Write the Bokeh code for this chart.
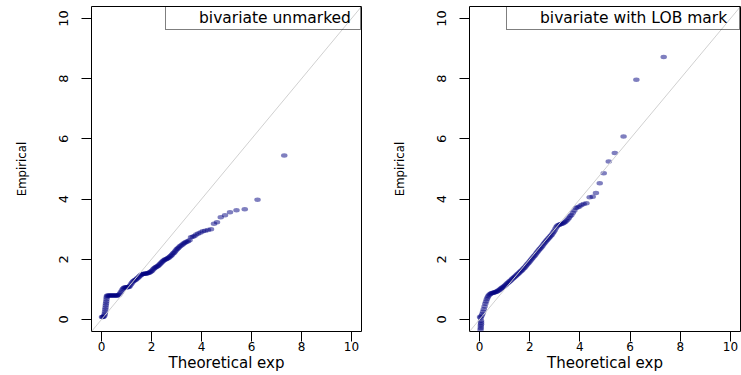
from bokeh.plotting import figure
from bokeh.models import Range1d, FixedTicker, Slope, Legend, LegendItem, ColumnDataSource
from bokeh.layouts import row
from bokeh.embed import file_html
from bokeh.resources import INLINE

# ---------------- data ----------------
ticks = [0, 2, 4, 6, 8, 10]
x_label = "Theoretical exp"
y_label = "Empirical"
panel_titles = ["bivariate unmarked", "bivariate with LOB mark"]

unmarked_theoretical = [
    0.02, 0.05, 0.08, 0.11, 0.13, 0.14, 0.15, 0.16, 0.17, 0.18, 0.19, 0.20, 0.21, 0.22,
    0.26, 0.30, 0.34, 0.38, 0.42, 0.46, 0.50, 0.54, 0.58, 0.62, 0.66, 0.70, 0.74, 0.78,
    0.82, 0.86, 0.90, 0.94, 0.98, 1.02, 1.06, 1.10, 1.14, 1.18, 1.22, 1.26, 1.30, 1.34,
    1.38, 1.42, 1.46, 1.50, 1.54, 1.58, 1.62, 1.66, 1.70, 1.74, 1.78, 1.82, 1.86, 1.90,
    1.94, 1.98, 2.02, 2.06, 2.10, 2.14, 2.18, 2.22, 2.26, 2.30, 2.34, 2.38, 2.42, 2.46,
    2.50, 2.54, 2.58, 2.62, 2.66, 2.70, 2.74, 2.78, 2.82, 2.86, 2.90, 2.94, 2.98, 3.02,
    3.06, 3.10, 3.15, 3.20, 3.25, 3.30, 3.35, 3.40, 3.46, 3.52, 3.58, 3.65, 3.72, 3.79,
    3.87, 3.96, 4.05, 4.15, 4.26, 4.38, 4.50, 4.62, 4.77, 4.94, 5.14, 5.40, 5.73, 6.24,
    7.31,
]
unmarked_empirical = [
    0.08, 0.08, 0.09, 0.12, 0.18, 0.25, 0.32, 0.39, 0.46, 0.53, 0.60, 0.67, 0.74, 0.79,
    0.80, 0.80, 0.80, 0.80, 0.80, 0.80, 0.80, 0.80, 0.80, 0.80, 0.80, 0.82, 0.86, 0.91,
    0.97, 1.02, 1.05, 1.06, 1.07, 1.07, 1.08, 1.08, 1.12, 1.17, 1.22, 1.26, 1.29, 1.31,
    1.33, 1.36, 1.39, 1.42, 1.45, 1.48, 1.50, 1.51, 1.52, 1.52, 1.53, 1.53, 1.54, 1.55,
    1.57, 1.59, 1.62, 1.66, 1.69, 1.72, 1.74, 1.76, 1.78, 1.81, 1.84, 1.88, 1.91, 1.94,
    1.97, 1.99, 2.00, 2.02, 2.04, 2.06, 2.09, 2.12, 2.15, 2.19, 2.22, 2.26, 2.30, 2.34,
    2.37, 2.40, 2.44, 2.47, 2.50, 2.53, 2.56, 2.58, 2.60, 2.63, 2.73, 2.75, 2.77, 2.82,
    2.86, 2.89, 2.93, 2.95, 2.97, 3.00, 3.18, 3.23, 3.40, 3.46, 3.56, 3.63, 3.66, 3.98,
    5.45,
]

lob_theoretical = [
    0.04, 0.05, 0.05, 0.06, 0.06, 0.06, 0.02, 0.05, 0.08, 0.11, 0.14, 0.17, 0.20, 0.23,
    0.26, 0.29, 0.32, 0.35, 0.39, 0.43, 0.47, 0.51, 0.55, 0.59, 0.63, 0.67, 0.71, 0.75,
    0.79, 0.83, 0.87, 0.91, 0.95, 0.99, 1.03, 1.07, 1.11, 1.15, 1.19, 1.23, 1.27, 1.31,
    1.35, 1.39, 1.43, 1.47, 1.51, 1.55, 1.59, 1.63, 1.67, 1.71, 1.75, 1.79, 1.83, 1.87,
    1.91, 1.95, 1.99, 2.03, 2.07, 2.11, 2.15, 2.19, 2.23, 2.27, 2.31, 2.35, 2.39, 2.43,
    2.47, 2.51, 2.55, 2.59, 2.63, 2.67, 2.71, 2.75, 2.79, 2.83, 2.87, 2.91, 2.95, 2.99,
    3.03, 3.07, 3.11, 3.16, 3.21, 3.26, 3.31, 3.36, 3.41, 3.46, 3.51, 3.56, 3.61, 3.66,
    3.72, 3.78, 3.84, 3.91, 3.98, 4.06, 4.15, 4.26, 4.39, 4.51, 4.64, 4.79, 4.95, 5.15,
    5.39, 5.74, 6.25, 7.34,
]
lob_empirical = [
    -0.34, -0.28, -0.22, -0.16, -0.10, -0.04, 0.08, 0.06, 0.12, 0.18, 0.26, 0.34, 0.43, 0.52,
    0.60, 0.67, 0.73, 0.78, 0.82, 0.85, 0.87, 0.88, 0.89, 0.90, 0.91, 0.92, 0.94, 0.96,
    0.98, 1.01, 1.04, 1.06, 1.08, 1.11, 1.14, 1.17, 1.20, 1.23, 1.26, 1.29, 1.32, 1.35,
    1.38, 1.41, 1.44, 1.47, 1.50, 1.53, 1.56, 1.59, 1.62, 1.65, 1.69, 1.72, 1.76, 1.80,
    1.84, 1.88, 1.92, 1.96, 2.00, 2.04, 2.08, 2.12, 2.16, 2.21, 2.25, 2.29, 2.33, 2.37,
    2.41, 2.45, 2.50, 2.54, 2.58, 2.62, 2.66, 2.70, 2.73, 2.77, 2.81, 2.86, 2.91, 2.96,
    3.02, 3.08, 3.12, 3.14, 3.16, 3.17, 3.19, 3.21, 3.24, 3.28, 3.32, 3.37, 3.43, 3.47,
    3.55, 3.62, 3.70, 3.73, 3.75, 3.80, 3.84, 3.86, 4.06, 4.08, 4.20, 4.53, 4.86, 5.25,
    5.53, 6.08, 7.97, 8.72,
]

TICK_FONT = "DejaVu Sans"
LABEL_FONT = "DejaVu Sans"
YLABEL_FONT = "'Liberation Sans Narrow', 'DejaVu Sans Condensed', 'Liberation Sans'"


def make_panel(xs, ys, title, width, border_right, label_width):
    p = figure(
        width=width, height=375,
        x_range=Range1d(-0.4, 10.4), y_range=Range1d(-0.4, 10.4),
        output_backend="svg", toolbar_location=None,
        min_border_left=91, min_border_right=border_right,
        min_border_top=6, min_border_bottom=44,
        x_axis_label=x_label, y_axis_label=y_label,
    )
    p.grid.visible = False
    p.background_fill_color = "white"
    p.border_fill_color = "white"
    p.outline_line_color = "black"
    p.outline_line_width = 1
    p.outline_line_alpha = 1

    for ax in p.axis:
        ax.ticker = FixedTicker(ticks=ticks)
        ax.axis_line_color = None
        ax.major_tick_out = 10
        ax.major_tick_in = 0
        ax.minor_tick_out = 0
        ax.minor_tick_in = 0
        ax.major_tick_line_color = "black"
        ax.major_label_text_font = TICK_FONT
        ax.major_label_text_color = "black"
        ax.axis_label_text_font_style = "normal"
        ax.axis_label_text_color = "black"

    p.xaxis.major_label_text_font_size = "12px"
    p.xaxis.major_label_standoff = 0
    p.xaxis.axis_label_standoff = 0
    p.xaxis.axis_label_text_font = LABEL_FONT
    p.xaxis.axis_label_text_font_size = "15px"
    p.xaxis.axis_label_text_line_height = 1.0
    p.xaxis.major_label_text_line_height = 1.0

    p.yaxis.major_label_text_font_size = "13px"
    p.yaxis.major_label_orientation = "vertical"
    p.yaxis.major_label_standoff = 13
    p.yaxis.axis_label_standoff = 28
    p.yaxis.axis_label_text_font = YLABEL_FONT
    p.yaxis.axis_label_text_font_size = "13px"

    src = ColumnDataSource(dict(x=xs, y=ys))
    p.ellipse(x="x", y="y", width=6.5, height=4.5,
              width_units="screen", height_units="screen",
              source=src, fill_color="#000080", fill_alpha=0.5, line_color=None)

    p.add_layout(Slope(gradient=1, y_intercept=0, line_color="#d0d0d0", line_width=1))

    dummy = p.scatter(x=[], y=[], fill_alpha=0, line_alpha=0)
    legend = Legend(
        items=[LegendItem(label=title, renderers=[dummy])],
        location="top_right", margin=0, padding=2, spacing=0,
        glyph_width=21, glyph_height=18, label_height=18,
        label_standoff=10, label_width=label_width,
        border_line_color="black", border_line_width=1,
        background_fill_alpha=0,
        label_text_font=LABEL_FONT, label_text_font_size="15.5px",
        label_text_color="black",
    )
    p.add_layout(legend)
    return p


p1 = make_panel(unmarked_theoretical, unmarked_empirical, panel_titles[0], 378, 17, 159)
p2 = make_panel(lob_theoretical, lob_empirical, panel_titles[1], 363, 1, 197)

layout = row(p1, p2)
open("out.html", "w").write(file_html(layout, INLINE))
